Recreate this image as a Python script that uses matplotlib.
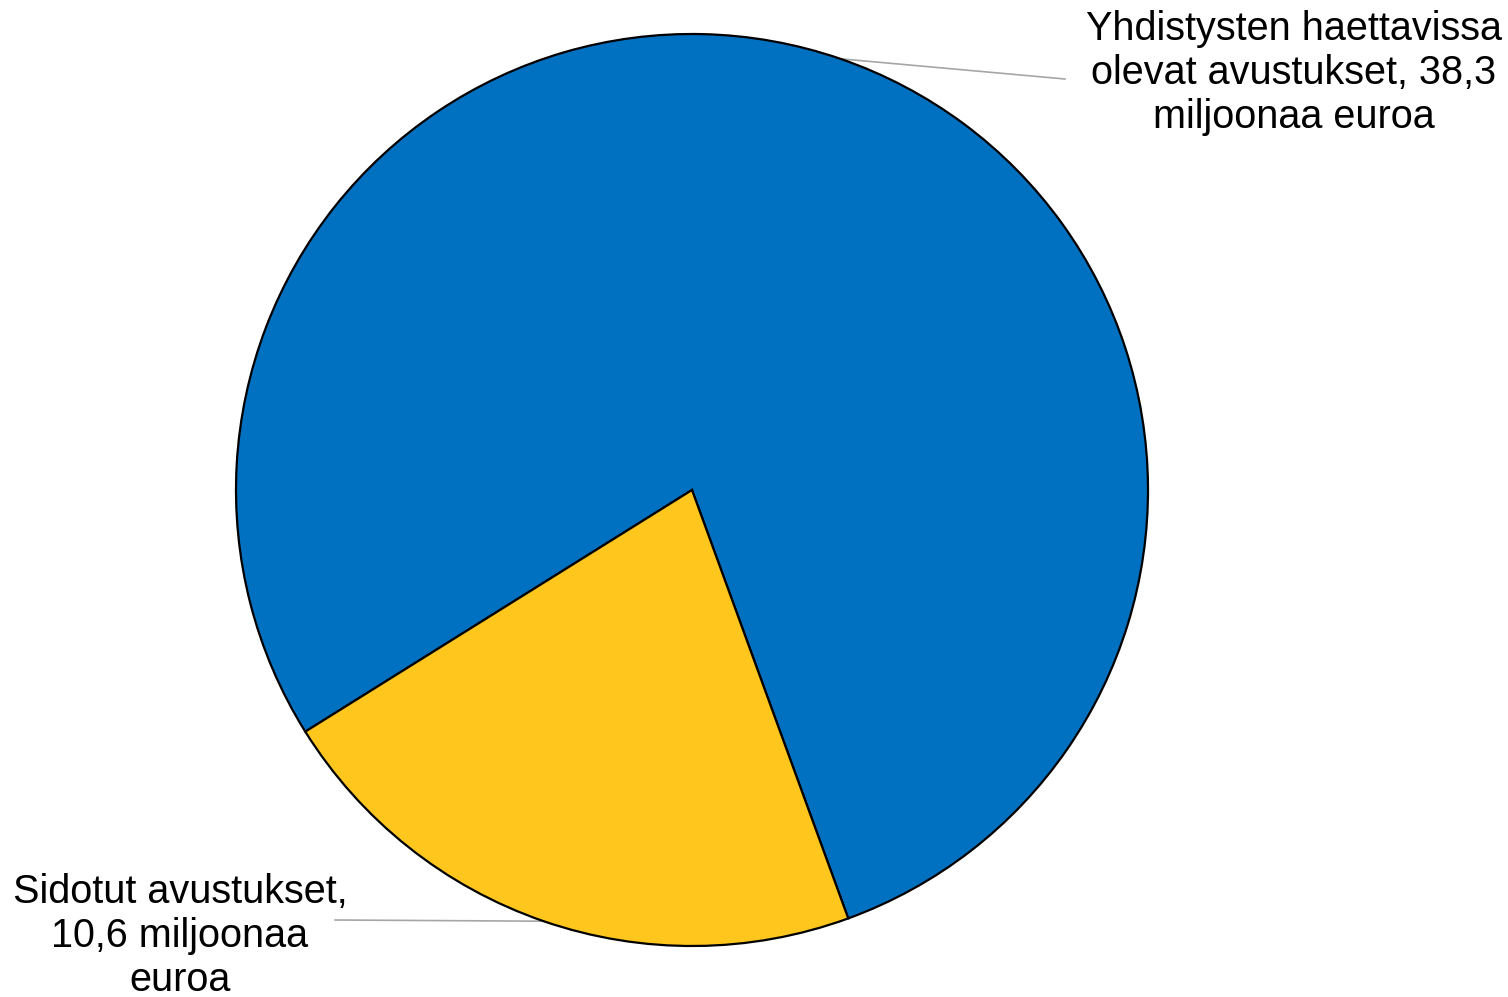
import numpy as np
import matplotlib.pyplot as plt

plt.rcParams['font.family'] = ['Liberation Sans', 'DejaVu Sans']

# data
labels = ['Yhdistysten haettavissa\nolevat avustukset, 38,3\nmiljoonaa euroa',
          'Sidotut avustukset,\n10,6 miljoonaa\neuroa']
values = [38.3, 10.6]
colors = ['#0070C0', '#FFC61E']

W, H = 1508, 997
fig = plt.figure(figsize=(W / 100, H / 100), dpi=100)
ax = fig.add_axes([0, 0, 1, 1])

cx, cy, r = 692, H - 490, 456
wedges, _ = ax.pie(values, colors=colors, startangle=212, counterclock=False,
                   center=(cx, cy), radius=r,
                   wedgeprops=dict(edgecolor='black', linewidth=1.6))
ax.set_xlim(0, W)
ax.set_ylim(0, H)
ax.set_aspect('auto')
ax.axis('off')

# label positions (text centre) and leader line ends, in pixels
text_pos = [(1294, H - 73), (180, H - 936)]
line_end = [(1065, H - 79), (335, H - 920)]

for w, lab, tp, le in zip(wedges, labels, text_pos, line_end):
    mid = np.deg2rad((w.theta1 + w.theta2) / 2)
    x0, y0 = cx + r * np.cos(mid), cy + r * np.sin(mid)
    ax.plot([x0, le[0]], [y0, le[1]], color='#A6A6A6', lw=1.2, zorder=0)
    ax.text(tp[0], tp[1], lab, ha='center', va='center', fontsize=28.5,
            linespacing=1.2, color='black')

fig.savefig('out.png', dpi=100)
